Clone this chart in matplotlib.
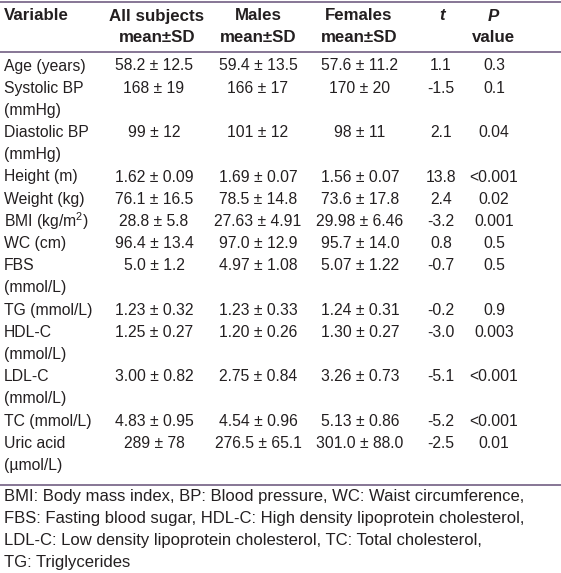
import matplotlib
matplotlib.use("Agg")
import matplotlib.pyplot as plt

W, H = 561, 573

headers1 = ["Variable", "All subjects", "Males", "Females", "$t$", "$P$"]
headers2 = ["", "mean±SD", "mean±SD", "mean±SD", "", "value"]

variables = [["Age (years)"], ["Systolic BP", "(mmHg)"], ["Diastolic BP", "(mmHg)"],
             ["Height (m)"], ["Weight (kg)"], ["BMI (kg/m$^2$)"], ["WC (cm)"],
             ["FBS", "(mmol/L)"], ["TG (mmol/L)"], ["HDL-C", "(mmol/L)"],
             ["LDL-C", "(mmol/L)"], ["TC (mmol/L)"], ["Uric acid", "(µmol/L)"]]
all_subjects = ["58.2 ± 12.5", "168 ± 19", "99 ± 12", "1.62 ± 0.09", "76.1 ± 16.5",
                "28.8 ± 5.8", "96.4 ± 13.4", "5.0 ± 1.2", "1.23 ± 0.32", "1.25 ± 0.27",
                "3.00 ± 0.82", "4.83 ± 0.95", "289 ± 78"]
males = ["59.4 ± 13.5", "166 ± 17", "101 ± 12", "1.69 ± 0.07", "78.5 ± 14.8",
         "27.63 ± 4.91", "97.0 ± 12.9", "4.97 ± 1.08", "1.23 ± 0.33", "1.20 ± 0.26",
         "2.75 ± 0.84", "4.54 ± 0.96", "276.5 ± 65.1"]
females = ["57.6 ± 11.2", "170 ± 20", "98 ± 11", "1.56 ± 0.07", "73.6 ± 17.8",
           "29.98 ± 6.46", "95.7 ± 14.0", "5.07 ± 1.22", "1.24 ± 0.31", "1.30 ± 0.27",
           "3.26 ± 0.73", "5.13 ± 0.86", "301.0 ± 88.0"]
t_vals = ["1.1", "-1.5", "2.1", "13.8", "2.4", "-3.2", "0.8", "-0.7", "-0.2", "-3.0",
          "-5.1", "-5.2", "-2.5"]
p_vals = ["0.3", "0.1", "0.04", "<0.001", "0.02", "0.001", "0.5", "0.5", "0.9", "0.003",
          "<0.001", "<0.001", "0.01"]

footnotes = ["BMI: Body mass index, BP: Blood pressure, WC: Waist circumference,",
             "FBS: Fasting blood sugar, HDL-C: High density lipoprotein cholesterol,",
             "LDL-C: Low density lipoprotein cholesterol, TC: Total cholesterol,",
             "TG: Triglycerides"]

plt.rcParams["font.family"] = ["Liberation Sans", "DejaVu Sans"]
plt.rcParams["mathtext.fontset"] = "custom"
plt.rcParams["mathtext.it"] = "Liberation Sans:italic:bold"
plt.rcParams["mathtext.rm"] = "Liberation Sans"

fig = plt.figure(figsize=(W / 100, H / 100), dpi=100)
ax = fig.add_axes([0, 0, 1, 1])
ax.set_xlim(0, W)
ax.set_ylim(H, 0)
ax.axis("off")

txt = "#231f20"
line_col = "#7d6b8c"
fs = 11.3
hfs = 12.2
head_x = [4, 157, 258, 359, 443, 494]
num_x = [154, 258, 360, 441, 494]

# rules
for y in [1.5, 51.5, 485]:
    ax.plot([0, W], [y, y], color=line_col, lw=1.3)

# header
for i, (h1, h2) in enumerate(zip(headers1, headers2)):
    ha = "left" if i == 0 else "center"
    ax.text(head_x[i], 16, h1, ha=ha, va="center", fontsize=hfs, fontweight="bold", color=txt)
    if h2:
        ax.text(head_x[i], 38, h2, ha=ha, va="center", fontsize=hfs, fontweight="bold", color=txt)

# body
y = 66
step = 22.2
for k, var in enumerate(variables):
    ax.text(4, y, var[0], ha="left", va="center", fontsize=fs, color=txt)
    for j, col in enumerate([all_subjects, males, females, t_vals, p_vals]):
        ax.text(num_x[j], y, col[k], ha="center", va="center", fontsize=fs, color=txt)
    for extra in var[1:]:
        y += step
        ax.text(4, y, extra, ha="left", va="center", fontsize=fs, color=txt)
    y += step

# footnotes
fy = 497
for line in footnotes:
    ax.text(4, fy, line, ha="left", va="center", fontsize=12.0, color=txt)
    fy += 22

fig.savefig("out.png", dpi=100)
